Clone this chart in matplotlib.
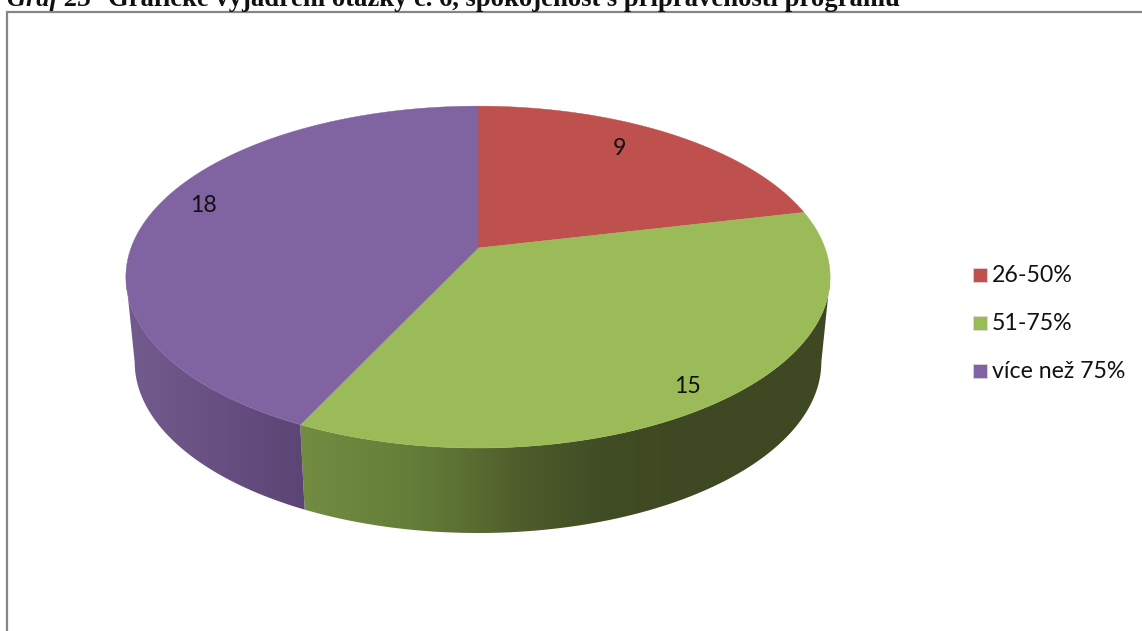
import numpy as np
import matplotlib
matplotlib.use('Agg')
import matplotlib.pyplot as plt
from matplotlib.patches import Polygon, Rectangle
from matplotlib.colors import to_rgb

categories = ['26-50%', '51-75%', 'více než 75%']
values = [9, 15, 18]
colors = ['#BE504D', '#9BBB59', '#8063A1']

W, H = 1142, 631
CX, CY = 478, 248
RX, RY, K = 347, 166, 0.17   # perspective of the pie top
DEPTH = 85

fig = plt.figure(figsize=(W / 100, H / 100), dpi=100)
ax = fig.add_axes([0, 0, 1, 1])
ax.set_xlim(0, W)
ax.set_ylim(H, 0)
ax.axis('off')
ax.set_autoscale_on(False)


def rim(deg):
    # clockwise from the top of the pie
    t = np.radians(deg)
    w = 1 + K * np.cos(t)
    return CX + RX * np.sin(t) / w, CY - RY * np.cos(t) / w


def rim_low(deg):
    x, y = rim(deg)
    return CX + (x - CX) * 0.975, y + DEPTH


def side(start, end, stops, stop_colors):
    deg = np.linspace(start, end, 200)
    tx, ty = rim(deg)
    bx, by = rim_low(deg[::-1])
    pts = np.column_stack([np.r_[tx, bx], np.r_[ty, by]])
    poly = Polygon(pts, closed=True, fc='none', ec='none')
    ax.add_patch(poly)
    x0, x1 = pts[:, 0].min(), pts[:, 0].max()
    xs = np.linspace(x0, x1, 500)
    rgb = np.array([to_rgb(c) for c in stop_colors])
    grad = np.stack([np.interp(xs, stops, rgb[:, i]) for i in range(3)], axis=-1)[None, :, :]
    img = ax.imshow(grad, aspect='auto', interpolation='bilinear',
                    extent=[x0, x1, pts[:, 1].max(), pts[:, 1].min()], zorder=1)
    img.set_clip_path(poly)


bounds = np.r_[0, np.cumsum(values)] / sum(values) * 360
edge_right = np.degrees(np.arccos(-K))

# sides of the disc, shaded from left to right
side(edge_right, bounds[2], [300, 400, 470, 520, 600, 690, 830],
     ['#728C42', '#66803A', '#5A6E32', '#4F5C2B', '#414D25', '#3E4822', '#3E4822'])
side(bounds[2], 360 - edge_right, [125, 200, 305],
     ['#745B90', '#6A5284', '#5B4575'])

# top of the pie
for i in range(len(values)):
    x, y = rim(np.linspace(bounds[i], bounds[i + 1], 200))
    ax.add_patch(Polygon(np.column_stack([np.r_[CX, x], np.r_[CY, y]]), closed=True,
                         fc=colors[i], ec=colors[i], lw=0.3, zorder=2))

label_font = ['Lato', 'DejaVu Sans']
label_xy = [(620, 148.5), (687, 386.5), (204, 205.5)]
for v, (x, y) in zip(values, label_xy):
    ax.text(x, y, str(v), fontsize=16.7, family=label_font, color='#111111',
            ha='center', va='center', zorder=3)

# legend
legend_y = [275, 323, 371]
for name, col, y in zip(categories, colors, legend_y):
    ax.add_patch(Rectangle((973, y - 7), 13.5, 14, fc=col, ec='#E4D8E0', lw=0.5, zorder=3))
    ax.text(992, y + 1, name, fontsize=16.7, family=label_font, color='#111111', va='center', zorder=3)

# frame of the chart, cut by the page
ax.plot([7, 7, W], [H, 12, 12], color='#868686', lw=1.6, solid_joinstyle='miter', zorder=4)

# caption, top of it is cropped in the scan
ax.text(7, 6, 'Graf 23', fontsize=19, family='Liberation Serif', weight='bold', style='italic',
        color='#111111', va='baseline', zorder=5)
ax.text(108, 6, 'Grafické vyjádření otázky č. 6, spokojenost s připraveností programu', fontsize=19.2,
        family='Liberation Serif', weight='bold', color='#111111', va='baseline', zorder=5)

fig.savefig('out.png', dpi=100)
